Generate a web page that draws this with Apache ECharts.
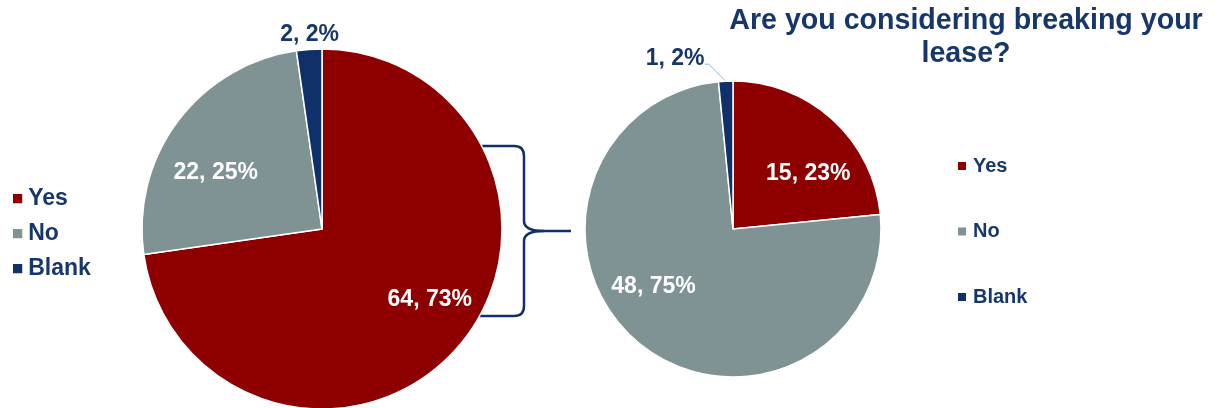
<!DOCTYPE html>
<html>
<head>
<meta charset="utf-8">
<script src="https://cdn.jsdelivr.net/npm/echarts@6/dist/echarts.min.js"></script>
<style>
  html, body { margin: 0; padding: 0; background: #ffffff; }
  #chart { width: 1215px; height: 408px; }
</style>
</head>
<body>
<div id="chart"></div>
<script>
// Survey answers: all respondents (left) and the follow-up question (right)
const categories = ['Yes', 'No', 'Blank'];
const allCounts = [64, 22, 2];
const allPercents = [73, 25, 2];
const breakCounts = [15, 48, 1];
const breakPercents = [23, 75, 2];
const titleText = 'Are you considering breaking your\nlease?';

const RED = '#8E0000';
const GREY = '#7F9394';
const NAVY = '#0F3069';
const TEXT_NAVY = '#17376B';
const FONT = "'Liberation Sans', Arial, sans-serif";
const sliceColors = [RED, GREY, NAVY];

const LEFT = { cx: 322, cy: 229, r: 180 };
const RIGHT = { cx: 733, cy: 229, r: 148 };

// Small per-label nudges (pixels) so the labels sit clear of slice edges
const LEFT_NUDGE = [[15, -10], [-8, 17], [38, 1]];
const RIGHT_NUDGE = [[7, 20], [-15, -21], [-13.5, -7]];

function buildData(counts, percents, showLine) {
  return categories.map((name, i) => {
    const item = {
      name: name,
      value: counts[i],
      pct: percents[i],
      itemStyle: { color: sliceColors[i] }
    };
    if (name === 'Blank') {
      item.label = { position: 'outside', color: TEXT_NAVY };
      item.labelLine = {
        show: showLine,
        length: 16,
        length2: 5,
        lineStyle: { color: '#8DB3E2', width: 1 }
      };
    }
    return item;
  });
}

// Push inside labels further out along their radius, then apply the nudges
function labelMover(pie, nudges) {
  return function (params) {
    const rect = params.labelRect;
    const mx = rect.x + rect.width / 2;
    const my = rect.y + rect.height / 2;
    const n = nudges[params.dataIndex];
    if (categories[params.dataIndex] === 'Blank') {
      const out = { dx: n[0], dy: n[1] };
      const pts = params.labelLinePoints;
      if (pts && pts.length) {
        const p0 = pts[0];
        const p1 = [p0[0] - 17, p0[1] - 17];
        const p2 = [p1[0] - 4, p1[1]];
        out.labelLinePoints = [p0, p1, p2];
      }
      return out;
    }
    const k = 1.32;
    return {
      x: pie.cx + (mx - pie.cx) * k + n[0],
      y: pie.cy + (my - pie.cy) * k + n[1]
    };
  };
}

function pieSeries(pie, counts, percents, showLine, nudges) {
  return {
    type: 'pie',
    center: [pie.cx, pie.cy],
    radius: [0, pie.r],
    startAngle: 90,
    clockwise: true,
    avoidLabelOverlap: false,
    emphasis: { disabled: true },
    animation: false,
    itemStyle: { borderColor: '#ffffff', borderWidth: 1.5 },
    label: {
      show: true,
      position: 'inside',
      color: '#ffffff',
      fontFamily: FONT,
      fontWeight: 'bold',
      fontSize: 23,
      distanceToLabelLine: 2,
      formatter: p => p.value + ', ' + p.data.pct + '%'
    },
    labelLayout: labelMover(pie, nudges),
    data: buildData(counts, percents, showLine)
  };
}

// Curly brace made of straight runs and rounded corners
const braceStroke = { stroke: NAVY, lineWidth: 2.5, fill: null };
function braceLine(x1, y1, x2, y2) {
  return { type: 'line', z: 0, shape: { x1, y1, x2, y2 }, style: braceStroke };
}
function braceCurve(x1, y1, cx, cy, x2, y2) {
  return {
    type: 'bezierCurve', z: 0,
    shape: { x1, y1, cpx1: cx, cpy1: cy, x2, y2 },
    style: braceStroke
  };
}
const brace = [
  braceLine(480, 146, 514, 146),
  braceCurve(514, 146, 524, 146, 524, 156),
  braceLine(524, 156, 524, 221),
  braceCurve(524, 221, 524, 231, 544, 231),
  braceLine(544, 231, 571, 231),
  braceCurve(544, 231, 524, 231, 524, 241),
  braceLine(524, 241, 524, 306),
  braceCurve(524, 306, 524, 316, 514, 316),
  braceLine(514, 316, 480, 316)
];

const chart = echarts.init(document.getElementById('chart'), null, { renderer: 'canvas' });

chart.setOption({
  backgroundColor: '#ffffff',
  animation: false,
  title: {
    text: titleText,
    left: 961,
    top: 0,
    textAlign: 'center',
    textStyle: {
      color: TEXT_NAVY,
      fontFamily: FONT,
      fontWeight: 'bold',
      fontSize: 28.6,
      lineHeight: 33
    }
  },
  legend: [
    {
      data: categories,
      orient: 'vertical',
      left: 11,
      top: 187,
      padding: 0,
      icon: 'rect',
      itemWidth: 11.25,
      itemHeight: 11.25,
      itemGap: 12,
      selectedMode: false,
      textStyle: {
        color: TEXT_NAVY,
        fontFamily: FONT,
        fontWeight: 'bold',
        fontSize: 23,
        lineHeight: 23,
        padding: [0, 0, 0, 0]
      }
    },
    {
      data: categories,
      orient: 'vertical',
      left: 956,
      top: 156,
      padding: 0,
      icon: 'rect',
      itemWidth: 10,
      itemHeight: 10,
      itemGap: 45.5,
      selectedMode: false,
      textStyle: {
        color: TEXT_NAVY,
        fontFamily: FONT,
        fontWeight: 'bold',
        fontSize: 20,
        lineHeight: 20,
        padding: [0, 0, 0, 1]
      }
    }
  ],
  graphic: brace,
  series: [
    pieSeries(LEFT, allCounts, allPercents, false, LEFT_NUDGE),
    pieSeries(RIGHT, breakCounts, breakPercents, true, RIGHT_NUDGE)
  ]
});
</script>
</body>
</html>
